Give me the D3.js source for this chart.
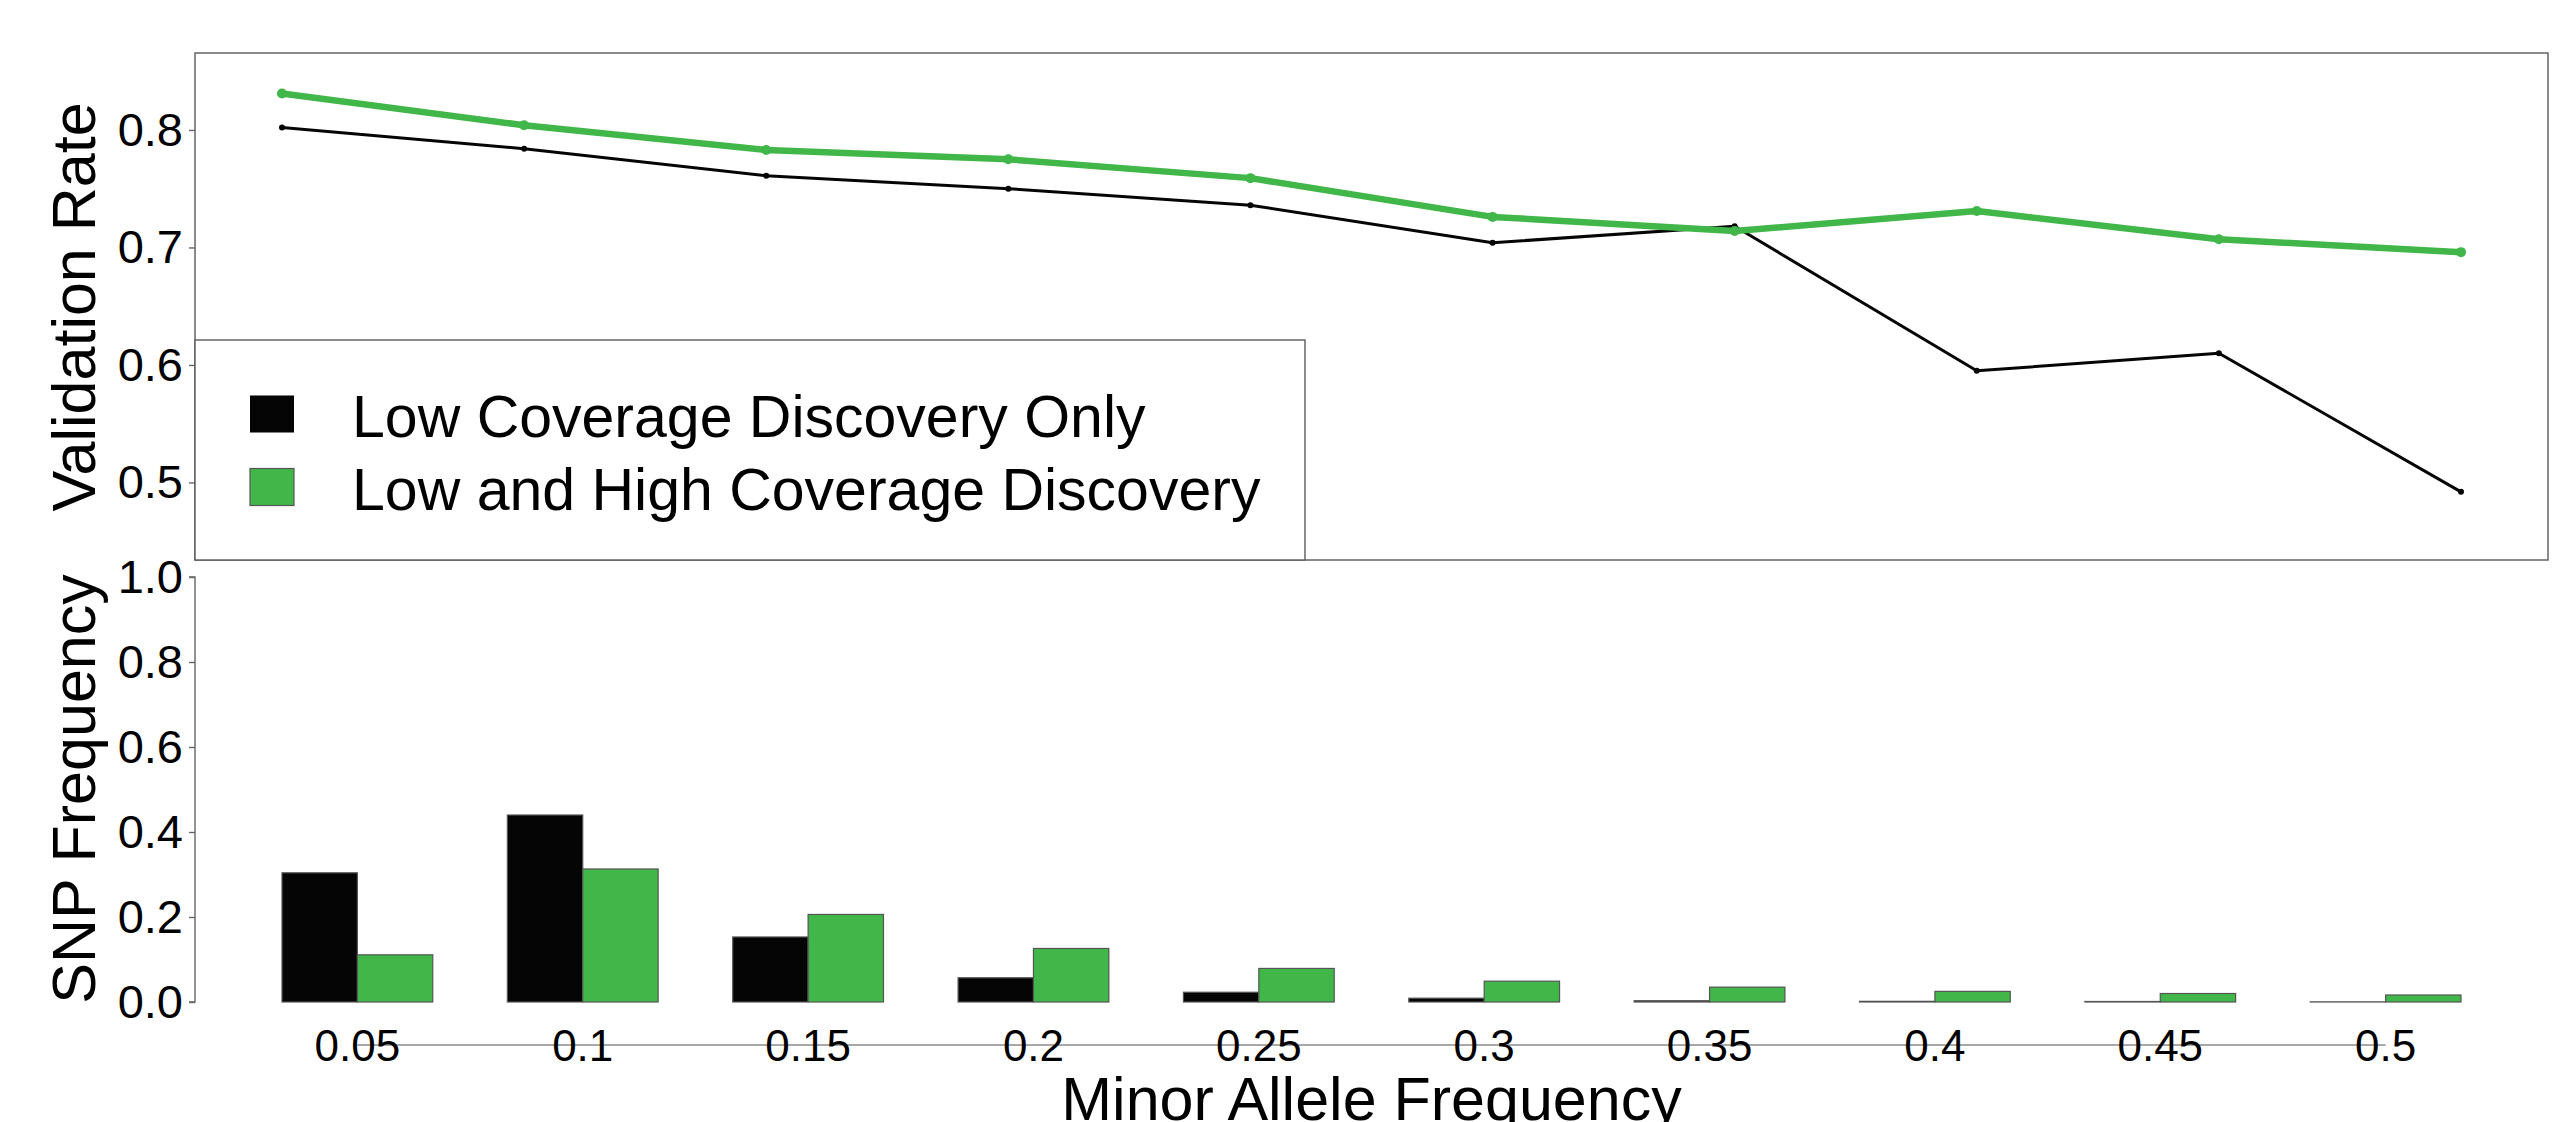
<!DOCTYPE html>
<html>
<head>
<meta charset="utf-8">
<script src="https://cdn.jsdelivr.net/npm/d3@7"></script>
<style>
  html, body { margin: 0; padding: 0; background: #fff; }
  svg { display: block; font-family: "Liberation Sans", Arial, sans-serif; }
</style>
</head>
<body>
<svg id="chart" width="2559" height="1122"></svg>
<script>
// Minor allele frequency bins
const mafBins = ["0.05", "0.1", "0.15", "0.2", "0.25", "0.3", "0.35", "0.4", "0.45", "0.5"];

// Series names
const seriesNames = ["Low Coverage Discovery Only", "Low and High Coverage Discovery"];

// Validation rate per bin
const validationLowOnly  = [0.802, 0.784, 0.761, 0.750, 0.736, 0.704, 0.718, 0.595, 0.610, 0.492];
const validationLowHigh  = [0.831, 0.804, 0.783, 0.775, 0.759, 0.726, 0.714, 0.731, 0.707, 0.696];

// SNP frequency per bin
const snpFreqLowOnly  = [0.304, 0.440, 0.153, 0.057, 0.023, 0.009, 0.003, 0.0016, 0.0012, 0.0003];
const snpFreqLowHigh  = [0.111, 0.313, 0.206, 0.126, 0.079, 0.049, 0.035, 0.025, 0.020, 0.0165];

// Axis ticks
const validationTicks = [0.5, 0.6, 0.7, 0.8];
const snpTicks = [0.0, 0.2, 0.4, 0.6, 0.8, 1.0];

const seriesColors = ["#050505", "#41b649"];

const svg = d3.select("#chart");

const left = 195, right = 2548;
const topPanel = { top: 53, bottom: 560 };
const botPanel = { top: 577, bottom: 1002 };
const xRange = [282, 2461];
const labelFont = 47, tickFontX = 44, titleFont = 61, legendFont = 59;

// Shared horizontal scales
const xBand = d3.scaleBand().domain(mafBins).range(xRange).paddingInner(0.331).paddingOuter(0);
const xPoint = d3.scalePoint().domain(mafBins).range(xRange);
const xSub = d3.scaleBand().domain([0, 1]).range([0, xBand.bandwidth()]);

// ---------- Top panel: validation rate lines ----------
const yTop = d3.scaleLinear().domain([0.434, 0.8655]).range([topPanel.bottom, topPanel.top]);

svg.append("rect")
  .attr("x", left).attr("y", topPanel.top)
  .attr("width", right - left).attr("height", topPanel.bottom - topPanel.top)
  .attr("fill", "none").attr("stroke", "#5a5a5a").attr("stroke-width", 1.4);

const yAxisTop = svg.append("g")
  .attr("transform", `translate(${left},0)`)
  .call(d3.axisLeft(yTop).tickValues(validationTicks).tickFormat(d3.format(".1f")).tickSize(6).tickPadding(6));
yAxisTop.select(".domain").remove();
yAxisTop.selectAll(".tick line").attr("stroke", "#666").attr("stroke-width", 1.4);
yAxisTop.selectAll(".tick text").attr("font-size", labelFont).attr("fill", "#000")
  .attr("font-family", "Liberation Sans, Arial, sans-serif");

const lineGen = d3.line().x((d, i) => xPoint(mafBins[i])).y(d => yTop(d));

const lineSeries = [
  { values: validationLowOnly, color: seriesColors[0], width: 3, r: 3 },
  { values: validationLowHigh, color: seriesColors[1], width: 6.5, r: 5 }
];

lineSeries.forEach(s => {
  svg.append("path")
    .datum(s.values)
    .attr("d", lineGen)
    .attr("fill", "none")
    .attr("stroke", s.color)
    .attr("stroke-width", s.width)
    .attr("stroke-linejoin", "round");
  svg.append("g").selectAll("circle")
    .data(s.values)
    .join("circle")
    .attr("cx", (d, i) => xPoint(mafBins[i]))
    .attr("cy", d => yTop(d))
    .attr("r", s.r)
    .attr("fill", s.color);
});

// Legend box in lower-left of the top panel
const legend = svg.append("g");
legend.append("rect")
  .attr("x", left).attr("y", 340)
  .attr("width", 1305 - left).attr("height", topPanel.bottom - 340)
  .attr("fill", "#fff").attr("stroke", "#5a5a5a").attr("stroke-width", 1.4);

seriesNames.forEach((name, i) => {
  const cy = 414 + i * 73;
  legend.append("rect")
    .attr("x", 250).attr("y", cy - 18.5)
    .attr("width", 44).attr("height", 37)
    .attr("fill", seriesColors[i])
    .attr("stroke", i === 1 ? "#555" : "none").attr("stroke-width", 1.2);
  legend.append("text")
    .attr("x", 352).attr("y", cy + 23)
    .attr("font-size", legendFont)
    .attr("fill", "#000")
    .text(name);
});

// ---------- Bottom panel: SNP frequency bars ----------
const yBot = d3.scaleLinear().domain([0, 1]).range([botPanel.bottom, botPanel.top]);

const yAxisBot = svg.append("g")
  .attr("transform", `translate(${left},0)`)
  .call(d3.axisLeft(yBot).tickValues(snpTicks).tickFormat(d3.format(".1f")).tickSize(6).tickPadding(6));
yAxisBot.select(".domain").attr("stroke", "#666").attr("stroke-width", 1.4)
  .attr("d", `M-6,${yBot(1)}H0V${yBot(0)}H-6`);
yAxisBot.selectAll(".tick line").attr("stroke", "#666").attr("stroke-width", 1.4);
yAxisBot.selectAll(".tick text").attr("font-size", labelFont).attr("fill", "#000")
  .attr("font-family", "Liberation Sans, Arial, sans-serif");

// Category axis line between first and last bin centres
const xAxisY = 1045;
svg.append("line")
  .attr("x1", xBand(mafBins[0]) + xBand.bandwidth() / 2)
  .attr("x2", xBand(mafBins[mafBins.length - 1]) + xBand.bandwidth() / 2)
  .attr("y1", xAxisY).attr("y2", xAxisY)
  .attr("stroke", "#a8a8a8").attr("stroke-width", 2.2);

[snpFreqLowOnly, snpFreqLowHigh].forEach((vals, s) => {
  svg.append("g").selectAll("rect")
    .data(vals)
    .join("rect")
    .attr("x", (d, i) => xBand(mafBins[i]) + xSub(s))
    .attr("y", d => yBot(d))
    .attr("width", xSub.bandwidth())
    .attr("height", d => yBot(0) - yBot(d))
    .attr("fill", seriesColors[s])
    .attr("stroke", "#555")
    .attr("stroke-width", 1.2);
});

svg.append("g").selectAll("text")
  .data(mafBins)
  .join("text")
  .attr("x", d => xBand(d) + xBand.bandwidth() / 2)
  .attr("y", xAxisY + 16)
  .attr("text-anchor", "middle")
  .attr("font-size", tickFontX)
  .attr("fill", "#000")
  .text(d => d);

// Axis titles
svg.append("text")
  .attr("transform", `translate(95,307) rotate(-90)`)
  .attr("text-anchor", "middle")
  .attr("font-size", titleFont)
  .attr("fill", "#000")
  .text("Validation Rate");

svg.append("text")
  .attr("transform", `translate(95,789) rotate(-90)`)
  .attr("text-anchor", "middle")
  .attr("font-size", titleFont)
  .attr("fill", "#000")
  .text("SNP Frequency");

// Title sits at the very bottom edge; its descenders run past the canvas
svg.append("text")
  .attr("x", (xRange[0] + xRange[1]) / 2)
  .attr("y", 1120)
  .attr("text-anchor", "middle")
  .attr("font-size", titleFont)
  .attr("fill", "#000")
  .text("Minor Allele Frequency");
</script>
</body>
</html>
